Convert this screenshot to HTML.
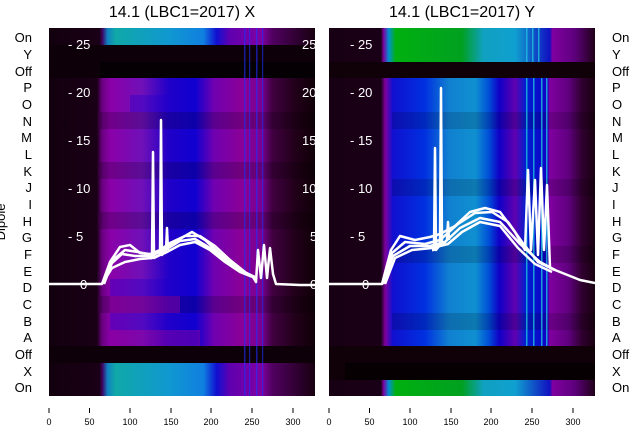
<!DOCTYPE html>
<html><head><meta charset="utf-8"><style>
html,body{margin:0;padding:0;background:#fff;}
svg{display:block;font-family:"Liberation Sans","DejaVu Sans",sans-serif;}
</style></head><body>
<svg width="640" height="440" viewBox="0 0 640 440" xmlns="http://www.w3.org/2000/svg">
<defs>
<linearGradient id="lb" x1="0" x2="1" y1="0" y2="0">
<stop offset="0" stop-color="#12000e"/><stop offset="0.18" stop-color="#1a0016"/><stop offset="0.2" stop-color="#6a0080"/><stop offset="0.23" stop-color="#8a00a8"/><stop offset="0.35" stop-color="#7010b8"/><stop offset="0.45" stop-color="#2000c8"/><stop offset="0.55" stop-color="#1000d0"/><stop offset="0.62" stop-color="#7000b0"/><stop offset="0.72" stop-color="#8a0098"/><stop offset="0.8" stop-color="#7a0090"/><stop offset="0.84" stop-color="#400040"/><stop offset="0.93" stop-color="#200018"/><stop offset="1" stop-color="#100008"/>
</linearGradient>
<linearGradient id="lo" x1="0" x2="1" y1="0" y2="0">
<stop offset="0" stop-color="#12000e"/><stop offset="0.19" stop-color="#1a0016"/><stop offset="0.2" stop-color="#400060"/><stop offset="0.22" stop-color="#1080c0"/><stop offset="0.25" stop-color="#10a8a8"/><stop offset="0.45" stop-color="#1098d0"/><stop offset="0.58" stop-color="#1080e0"/><stop offset="0.63" stop-color="#1010d0"/><stop offset="0.68" stop-color="#6000b0"/><stop offset="0.8" stop-color="#8000a0"/><stop offset="0.84" stop-color="#500060"/><stop offset="1" stop-color="#180010"/>
</linearGradient>
<linearGradient id="rb" x1="0" x2="1" y1="0" y2="0">
<stop offset="0" stop-color="#180014"/><stop offset="0.195" stop-color="#1a0016"/><stop offset="0.212" stop-color="#8000a0"/><stop offset="0.24" stop-color="#1010d0"/><stop offset="0.36" stop-color="#0030e0"/><stop offset="0.45" stop-color="#1080d0"/><stop offset="0.55" stop-color="#1090d0"/><stop offset="0.6" stop-color="#0050d8"/><stop offset="0.64" stop-color="#1000c8"/><stop offset="0.7" stop-color="#6000b0"/><stop offset="0.74" stop-color="#0020d0"/><stop offset="0.82" stop-color="#1000c8"/><stop offset="0.83" stop-color="#8000a0"/><stop offset="0.9" stop-color="#600080"/><stop offset="0.95" stop-color="#300030"/><stop offset="1" stop-color="#180010"/>
</linearGradient>
<linearGradient id="ro" x1="0" x2="1" y1="0" y2="0">
<stop offset="0" stop-color="#180014"/><stop offset="0.195" stop-color="#1a0016"/><stop offset="0.205" stop-color="#8000a0"/><stop offset="0.225" stop-color="#0090d0"/><stop offset="0.25" stop-color="#00b010"/><stop offset="0.5" stop-color="#00a020"/><stop offset="0.58" stop-color="#10a0c0"/><stop offset="0.7" stop-color="#10a0d0"/><stop offset="0.83" stop-color="#1010c0"/><stop offset="0.84" stop-color="#8000a0"/><stop offset="0.92" stop-color="#600080"/><stop offset="1" stop-color="#200018"/>
</linearGradient>
<clipPath id="cl"><rect x="49" y="28" width="266" height="368"/></clipPath>
<clipPath id="cr"><rect x="329" y="28" width="266" height="368"/></clipPath>
</defs>

<text x="182" y="17" font-size="16" text-anchor="middle">14.1 (LBC1=2017) X</text>
<text x="462" y="17" font-size="16" text-anchor="middle">14.1 (LBC1=2017) Y</text>

<g clip-path="url(#cl)">
<rect x="49" y="28" width="266" height="17" fill="url(#lo)"/>
<rect x="49" y="45" width="266" height="33" fill="#0e0008"/>
<rect x="100" y="62" width="215" height="16" fill="#050003"/>
<rect x="49" y="78" width="266" height="268" fill="url(#lb)"/>
<g fill="#000" opacity="0.18">
<rect x="100" y="112" width="215" height="17"/><rect x="100" y="162" width="215" height="17"/><rect x="100" y="212" width="215" height="17"/><rect x="100" y="296" width="215" height="17"/>
</g>
<g fill="#2000d0" opacity="0.35">
<rect x="110" y="279" width="60" height="17"/><rect x="110" y="313" width="60" height="17"/><rect x="130" y="95" width="40" height="17"/>
</g>
<g fill="#8a00a0" opacity="0.5"><rect x="110" y="296" width="70" height="17"/><rect x="110" y="330" width="90" height="16"/></g>
<rect x="49" y="346" width="266" height="17" fill="#0e0008"/>
<rect x="49" y="363" width="266" height="33" fill="url(#lo)"/>
<g fill="#2030ff" opacity="0.6">
<rect x="244" y="28" width="1.5" height="368"/><rect x="249" y="28" width="1.2" height="368"/><rect x="256" y="28" width="1.5" height="368"/><rect x="262" y="28" width="1.2" height="368"/>
</g>
<g fill="#fff" font-size="13">
<text x="68" y="49">- 25</text><text x="68" y="97">- 20</text><text x="68" y="145">- 15</text><text x="68" y="193">- 10</text><text x="68" y="241">- 5</text><text x="80" y="289">0</text>
<text x="302" y="49">25</text><text x="302" y="97">20</text><text x="302" y="145">15</text><text x="302" y="193">10</text><text x="310" y="241">5</text><text x="310" y="289">0</text>
</g>
<g fill="none" stroke="#fff" stroke-width="2.5" stroke-linejoin="round">
<polyline points="40,284 102,284 110,262 120,247 130,245 140,253 150,254 160,250 170,243 185,236 200,236 215,246 230,260 245,272 253,277 256,282 258,250 261,278 264,245 267,278 270,248 273,274 276,284 300,285 320,285"/>
<polyline points="102,284 111,264 122,254 135,256 150,256 165,250 180,241 195,239 210,248 225,260 240,270 255,277"/>
<polyline points="102,284 112,268 125,262 140,259 152,258 165,253 180,245 195,242 210,250 225,262 240,272 255,278"/>
<polyline points="104,284 113,260 125,250 138,252 152,255 165,248 178,240 192,232 205,240 220,254 235,266 250,276"/>
<polyline points="150,258 152,258 153,152 154,258 160,255 161,120 162,255 166,250 167,228 168,250"/>
</g>
</g>

<g clip-path="url(#cr)">
<rect x="329" y="28" width="266" height="34" fill="url(#ro)"/>
<rect x="329" y="62" width="266" height="16" fill="#100008"/>
<rect x="329" y="78" width="266" height="268" fill="url(#rb)"/>
<g fill="#000" opacity="0.15">
<rect x="392" y="112" width="203" height="17"/><rect x="392" y="179" width="203" height="17"/><rect x="392" y="246" width="203" height="17"/><rect x="392" y="313" width="203" height="17"/>
</g>
<rect x="329" y="346" width="266" height="34" fill="#100008"/>
<rect x="345" y="363" width="250" height="17" fill="#060003"/>
<rect x="329" y="380" width="266" height="16" fill="url(#ro)"/>
<g fill="#20c0e0" opacity="0.8">
<rect x="526" y="28" width="1.5" height="34"/><rect x="532" y="28" width="1.5" height="34"/><rect x="538" y="28" width="1.5" height="34"/><rect x="526" y="78" width="1.5" height="268"/><rect x="533" y="78" width="1.5" height="268"/><rect x="541" y="78" width="1.5" height="268"/><rect x="546" y="78" width="1.5" height="268"/>
</g>
<g fill="#fff" font-size="13">
<text x="350" y="49">- 25</text><text x="350" y="97">- 20</text><text x="350" y="145">- 15</text><text x="350" y="193">- 10</text><text x="350" y="241">- 5</text><text x="362" y="289">0</text>
</g>
<g fill="none" stroke="#fff" stroke-width="2.5" stroke-linejoin="round">
<polyline points="320,284 382,284 391,250 400,236 415,240 430,237 440,234 455,226 470,212 485,208 500,212 515,232 525,250 528,170 531,250 535,180 538,255 541,168 544,250 547,185 550,268 560,272 570,276 580,280 595,283"/>
<polyline points="383,284 392,253 405,242 425,244 440,240 458,224 475,213 492,212 508,222 522,242 538,262 555,270"/>
<polyline points="383,284 393,256 410,246 430,246 445,242 460,228 480,218 500,222 520,244 540,262 555,270"/>
<polyline points="385,284 395,258 412,250 432,248 448,244 462,232 480,222 500,226 518,248 535,264 552,272"/>
<polyline points="432,250 434,250 435,148 436,250 440,245 441,88 442,245 447,240 448,222 449,240"/>
</g>
</g>

<g font-size="13" fill="#000">
<g text-anchor="end">
<text x="32" y="42">On</text><text x="32" y="59">Y</text><text x="32" y="76">Off</text><text x="32" y="92">P</text><text x="32" y="109">O</text><text x="32" y="126">N</text><text x="32" y="142">M</text><text x="32" y="159">L</text><text x="32" y="176">K</text><text x="32" y="192">J</text><text x="32" y="209">I</text><text x="32" y="226">H</text><text x="32" y="242">G</text><text x="32" y="259">F</text><text x="32" y="276">E</text><text x="32" y="292">D</text><text x="32" y="309">C</text><text x="32" y="326">B</text><text x="32" y="342">A</text><text x="32" y="359">Off</text><text x="32" y="376">X</text><text x="32" y="392">On</text>
</g>
<g text-anchor="start">
<text x="612" y="42">On</text><text x="612" y="59">Y</text><text x="612" y="76">Off</text><text x="612" y="92">P</text><text x="612" y="109">O</text><text x="612" y="126">N</text><text x="612" y="142">M</text><text x="612" y="159">L</text><text x="612" y="176">K</text><text x="612" y="192">J</text><text x="612" y="209">I</text><text x="612" y="226">H</text><text x="612" y="242">G</text><text x="612" y="259">F</text><text x="612" y="276">E</text><text x="612" y="292">D</text><text x="612" y="309">C</text><text x="612" y="326">B</text><text x="612" y="342">A</text><text x="612" y="359">Off</text><text x="612" y="376">X</text><text x="612" y="392">On</text>
</g>
<text x="0" y="0" transform="translate(5,222) rotate(-90)" text-anchor="middle" font-size="13">Dipole</text>
</g>

<g stroke="#000" stroke-width="1">
<line x1="49" y1="408" x2="49" y2="413"/><line x1="89.5" y1="408" x2="89.5" y2="413"/><line x1="130" y1="408" x2="130" y2="413"/><line x1="171" y1="408" x2="171" y2="413"/><line x1="211" y1="408" x2="211" y2="413"/><line x1="252" y1="408" x2="252" y2="413"/><line x1="293" y1="408" x2="293" y2="413"/>
<line x1="329" y1="408" x2="329" y2="413"/><line x1="369.5" y1="408" x2="369.5" y2="413"/><line x1="410" y1="408" x2="410" y2="413"/><line x1="451" y1="408" x2="451" y2="413"/><line x1="491" y1="408" x2="491" y2="413"/><line x1="532" y1="408" x2="532" y2="413"/><line x1="573" y1="408" x2="573" y2="413"/>
</g>
<g font-size="9" text-anchor="middle" fill="#000">
<text x="49" y="425">0</text><text x="89.5" y="425">50</text><text x="130" y="425">100</text><text x="171" y="425">150</text><text x="211" y="425">200</text><text x="252" y="425">250</text><text x="293" y="425">300</text>
<text x="329" y="425">0</text><text x="369.5" y="425">50</text><text x="410" y="425">100</text><text x="451" y="425">150</text><text x="491" y="425">200</text><text x="532" y="425">250</text><text x="573" y="425">300</text>
</g>
</svg>
</body></html>
